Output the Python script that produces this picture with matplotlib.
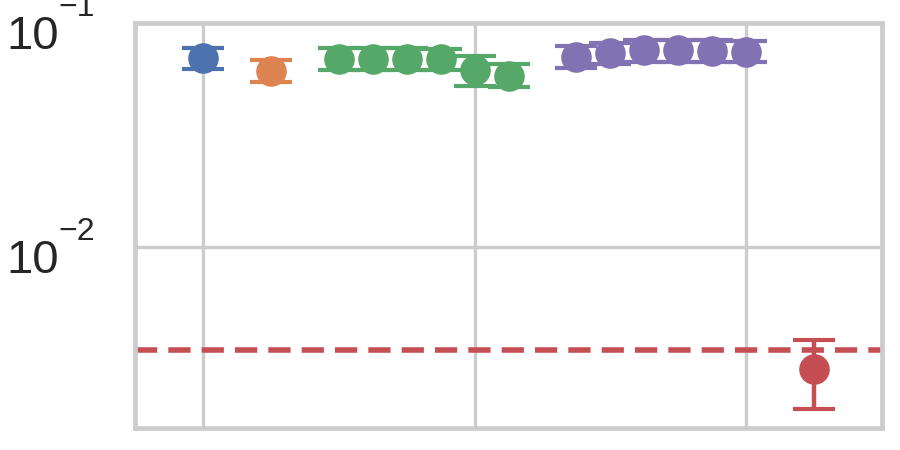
import numpy as np
import matplotlib
matplotlib.use('Agg')
import matplotlib.pyplot as plt
import matplotlib.transforms as mtransforms
import seaborn as sns

# values (log y axis)
blue_x = [0]
blue_y = [0.0695]
blue_lo = [0.0623]
blue_hi = [0.0776]

orange_x = [2]
orange_y = [0.0608]
orange_lo = [0.0543]
orange_hi = [0.0684]

green_x = [4, 5, 6, 7, 8, 9]
green_y = [0.0690, 0.0690, 0.0690, 0.0688, 0.0616, 0.0579]
green_lo = [0.0619, 0.0619, 0.0619, 0.0617, 0.0524, 0.0517]
green_hi = [0.0771, 0.0771, 0.0771, 0.0768, 0.0714, 0.0656]

purple_x = [11, 12, 13, 14, 15, 16]
purple_y = [0.0703, 0.0733, 0.0754, 0.0754, 0.0750, 0.0744]
purple_lo = [0.0631, 0.0656, 0.0672, 0.0672, 0.0670, 0.0672]
purple_hi = [0.0792, 0.0811, 0.0839, 0.0839, 0.0836, 0.0833]

red_x = [18]
red_y = [0.00284]
red_lo = [0.00189]
red_hi = [0.00385]

baseline = 0.00345

ytick_vals = [0.1, 0.01]
ytick_exps = ['\u22121', '\u22122']

sns.set_theme(style='whitegrid')
plt.rcParams['font.family'] = ['Liberation Sans', 'DejaVu Sans']

pal = sns.color_palette('deep')
groups = [
    (blue_x, blue_y, blue_lo, blue_hi, pal[0]),
    (orange_x, orange_y, orange_lo, orange_hi, pal[1]),
    (green_x, green_y, green_lo, green_hi, pal[2]),
    (purple_x, purple_y, purple_lo, purple_hi, pal[4]),
    (red_x, red_y, red_lo, red_hi, pal[3]),
]

fig = plt.figure(figsize=(9, 4.5), dpi=100)
ax = fig.add_axes([0.15, 0.049, 0.83, 0.9])

for x, y, lo, hi, c in groups:
    y = np.array(y)
    err = [y - np.array(lo), np.array(hi) - y]
    ax.errorbar(x, y, yerr=err, fmt='o', color=c, markersize=21,
                elinewidth=3.2, capsize=15, capthick=3, zorder=3)

ax.axhline(baseline, color=pal[3], lw=4, dashes=(4, 2), zorder=2)

ax.set_yscale('log')
ax.set_ylim(0.00155, 0.1)
ax.set_xlim(-2, 20)
ax.set_xticks([0, 8, 16])
ax.set_xticklabels([])
ax.set_yticks(ytick_vals)
ax.set_yticklabels([])
ax.minorticks_off()
ax.tick_params(length=0)
ax.grid(True, color='#cccccc', lw=2.4)
for s in ax.spines.values():
    s.set_color('#cccccc')
    s.set_linewidth(3.4)

# y labels written as "10" plus a raised exponent, old-style look
trans = mtransforms.blended_transform_factory(ax.transAxes, ax.transData)
for v, e in zip(ytick_vals, ytick_exps):
    t_base = trans + mtransforms.ScaledTranslation(-0.765, -0.26, fig.dpi_scale_trans)
    ax.text(0, v, '10', transform=t_base, ha='right', va='baseline',
            fontsize=34, color='#262626', clip_on=False)
    t_sup = trans + mtransforms.ScaledTranslation(-0.766, 0.067, fig.dpi_scale_trans)
    ax.text(0, v, e, transform=t_sup, ha='left', va='baseline',
            fontsize=23, color='#262626', clip_on=False)

fig.savefig('out.png', dpi=100)
